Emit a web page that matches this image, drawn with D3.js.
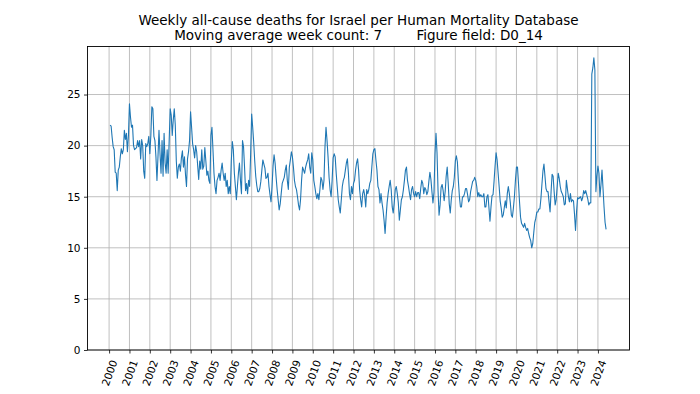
<!DOCTYPE html>
<html><head><meta charset="utf-8">
<script src="https://cdn.jsdelivr.net/npm/d3@7"></script>
<style>body{margin:0;background:#fff} svg{display:block}</style>
</head><body><svg id="c" width="700" height="394"></svg>
<script>
const titleLines = [
  "Weekly all-cause deaths for Israel per Human Mortality Database",
  "Moving average week count: 7        Figure field: D0_14"
];
const yearTicks = [2000,2001,2002,2003,2004,2005,2006,2007,2008,2009,2010,2011,2012,2013,2014,2015,2016,2017,2018,2019,2020,2021,2022,2023,2024];
const yTicks = [0,5,10,15,20,25];
const startYear = 2000.05, stepYears = 0.05;
const deaths = [
  // 2000
  22.0,21.9,20.8,19.9,19.6,17.4,17.3,15.6,17.6,17.9,18.9,19.7,19.2,19.6,21.5,20.6,21.2,19.4,21.0,24.1,
  // 2001
  22.8,21.8,22.0,20.0,19.6,19.7,19.8,20.5,19.9,20.5,18.7,20.6,20.0,17.5,16.8,20.2,19.9,20.2,20.9,19.2,
  // 2002
  21.0,23.8,23.6,20.9,20.5,18.9,16.6,18.9,21.5,19.2,17.3,20.5,17.0,21.2,18.3,17.3,19.6,17.3,20.5,23.6,
  // 2003
  23.0,21.0,22.5,23.6,22.0,18.5,16.8,17.9,18.2,17.5,18.8,19.5,17.9,18.9,17.2,16.0,18.7,19.4,20.5,23.3,
  // 2004
  21.8,20.2,19.6,18.8,20.0,19.4,18.0,16.7,18.5,17.7,19.6,17.7,18.0,19.8,18.5,17.1,17.5,16.6,16.3,21.0,
  // 2005
  21.8,19.6,17.3,16.0,15.3,16.6,16.9,17.3,16.6,17.6,18.3,17.3,16.6,17.3,16.0,16.6,15.3,16.0,15.3,18.5,
  // 2006
  20.4,19.6,17.3,16.0,14.7,16.0,17.3,18.3,16.6,15.3,20.5,19.9,17.9,15.6,16.3,15.3,16.6,16.0,19.2,23.1,
  // 2007
  21.8,20.3,18.5,17.0,16.1,15.5,15.5,15.8,16.5,17.6,18.6,18.2,17.8,16.8,16.9,17.3,16.0,15.2,14.5,16.0,
  // 2008
  18.0,19.1,18.3,16.9,15.7,14.7,13.7,14.3,15.3,16.3,16.6,16.9,17.6,18.1,16.6,15.7,17.9,18.6,19.4,18.9,
  // 2009
  17.9,16.6,16.0,15.7,15.0,14.2,13.7,14.7,16.6,17.9,17.6,17.3,17.9,18.3,18.6,19.2,17.9,17.3,19.3,18.6,
  // 2010
  16.6,16.0,15.3,14.8,15.3,14.7,15.7,16.9,16.6,15.7,16.6,19.9,21.8,20.5,18.9,16.9,15.7,15.0,16.6,18.8,
  // 2011
  19.2,18.9,17.3,16.0,14.7,14.0,13.4,14.7,16.0,16.6,16.9,17.6,18.3,18.7,17.3,15.3,14.7,16.0,15.3,16.3,
  // 2012
  16.6,17.6,18.3,18.7,17.6,15.7,14.7,14.0,15.3,15.7,15.1,14.0,15.7,15.3,15.7,16.3,16.6,17.9,19.2,19.6,
  // 2013
  19.7,18.6,17.6,16.0,15.7,14.4,15.3,14.4,13.7,12.7,11.4,13.0,14.4,15.3,16.0,16.6,15.7,14.0,13.4,14.4,
  // 2014
  15.7,16.0,15.3,14.4,12.7,13.7,14.7,15.0,15.7,16.6,17.6,17.9,16.6,16.0,15.3,14.7,15.7,16.0,15.3,15.0,
  // 2015
  15.5,15.0,15.4,15.4,14.8,15.8,16.6,16.3,15.3,15.9,15.7,15.2,15.5,16.5,17.4,16.7,15.5,14.4,15.4,19.2,
  // 2016
  21.2,19.3,15.6,13.2,14.2,15.9,16.2,15.6,14.6,15.5,17.0,17.9,16.3,14.3,13.4,14.7,15.6,16.0,16.9,18.5,
  // 2017
  19.0,18.4,16.5,15.0,14.0,14.0,15.0,15.0,15.3,15.8,15.8,15.2,14.5,14.7,15.5,16.0,16.5,16.6,16.9,16.6,
  // 2018
  16.0,15.0,15.4,15.0,15.2,15.0,15.0,15.3,14.0,14.0,15.0,15.2,13.9,12.6,14.0,15.1,15.2,16.5,18.0,19.3,
  // 2019
  18.6,17.3,16.0,14.6,13.9,13.0,13.2,13.9,14.6,13.9,15.3,16.0,15.3,14.4,13.2,13.0,13.9,15.0,16.6,17.9,
  // 2020
  17.9,16.3,14.5,13.0,12.4,12.2,12.0,12.4,12.0,11.7,11.9,11.4,11.0,10.7,10.0,10.4,11.5,12.5,12.9,13.5,
  // 2021
  13.5,13.8,13.8,14.8,16.2,17.5,18.2,17.0,15.8,15.5,15.5,14.5,13.5,15.5,17.2,17.0,15.5,14.2,14.7,16.0,
  // 2022
  17.3,16.8,16.0,15.5,15.3,15.0,14.2,14.3,16.6,15.8,15.0,14.5,15.3,14.5,14.7,14.6,13.3,11.7,13.5,14.9,
  // 2023
  14.8,14.9,15.0,14.6,14.9,15.6,15.3,15.6,15.2,14.8,14.2,14.4,14.4,27.0,27.6,28.6,27.4,15.5,17.0,18.0,
  // 2024
  17.3,15.0,16.2,17.6,15.8,14.0,12.5,11.8
];

const L = 87.5, R = 629.5, T = 46.5, B = 350;
const svg = d3.select("#c");
const font = "'DejaVu Sans', sans-serif";
const x = d3.scaleLinear().domain([1998.94, 2025.55]).range([L, R]);
const y = d3.scaleLinear().domain([0, 29.7]).range([B, T]);

// grid
const grid = svg.append("g").attr("stroke", "#b0b0b0").attr("stroke-width", 0.8);
grid.selectAll("line.v").data(yearTicks).join("line").attr("class", "v")
  .attr("x1", d => x(d)).attr("x2", d => x(d)).attr("y1", T).attr("y2", B);
grid.selectAll("line.h").data(yTicks).join("line").attr("class", "h")
  .attr("x1", L).attr("x2", R).attr("y1", d => y(d)).attr("y2", d => y(d));

// data line
const line = d3.line()
  .x((d, i) => x(startYear + i * stepYears))
  .y(d => y(d));
svg.append("path").datum(deaths)
  .attr("fill", "none").attr("stroke", "#1f77b4").attr("stroke-width", 1.1)
  .attr("stroke-linejoin", "round").attr("d", line);

// frame
svg.append("rect").attr("x", L).attr("y", T).attr("width", R - L).attr("height", B - T)
  .attr("fill", "none").attr("stroke", "#000").attr("stroke-width", 0.9);

// axes
const yAxis = svg.append("g").attr("transform", `translate(${L},0)`)
  .call(d3.axisLeft(y).tickValues(yTicks).tickSize(3.5).tickPadding(3.5));
const xAxis = svg.append("g").attr("transform", `translate(0,${B})`)
  .call(d3.axisBottom(x).tickValues(yearTicks).tickFormat(d => String(d)).tickSize(3.5));
[yAxis, xAxis].forEach(a => {
  a.select(".domain").remove();
  a.selectAll(".tick line").attr("stroke", "#000").attr("stroke-width", 0.8);
  a.selectAll("text").attr("font-family", font).attr("font-size", 10.5).attr("fill", "#000");
});
xAxis.selectAll(".tick text")
  .attr("x", 0).attr("y", 0).attr("dy", "0.35em")
  .attr("text-anchor", "middle")
  .attr("transform", "translate(0,23) rotate(-70)");

// title
const cx = (L + R) / 2;
svg.selectAll("text.title").data(titleLines).join("text").attr("class", "title")
  .attr("x", cx).attr("y", (d, i) => 25 + i * 15)
  .attr("text-anchor", "middle").attr("font-family", font).attr("font-size", 13.5)
  .attr("fill", "#000").style("white-space", "pre")
  .text(d => d);
</script></body></html>
